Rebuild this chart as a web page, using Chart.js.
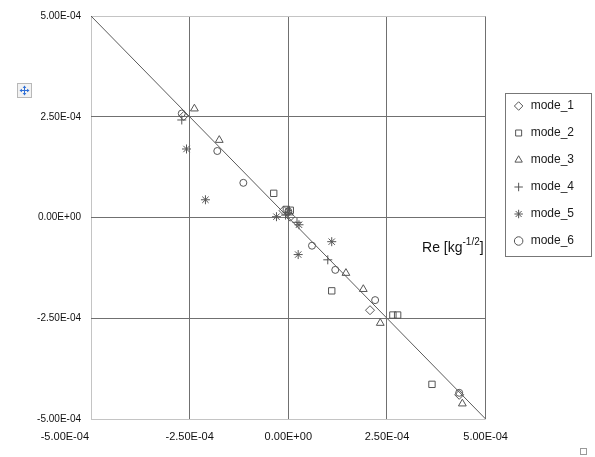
<!DOCTYPE html>
<html>
<head>
<meta charset="utf-8">
<script src="https://cdn.jsdelivr.net/npm/chart.js@4/dist/chart.umd.min.js"></script>
<style>
  html, body { margin: 0; padding: 0; background: #fff; }
</style>
</head>
<body>
<canvas id="modes-chart" width="595" height="457"></canvas>
<script>
// axis ticks
const tickValues = [-5e-4, -2.5e-4, 0, 2.5e-4, 5e-4];
const xTickLabels = ['-5.00E-04', '-2.50E-04', '0.00E+00', '2.50E-04', '5.00E-04'];
const yTickLabels = ['-5.00E-04', '-2.50E-04', '0.00E+00', '2.50E-04', '5.00E-04'];

// reference line y = -x
const fitLine = [[-5e-4, 5e-4], [5e-4, -5e-4]];

// measured points [x, y]
const mode_1 = [[-2.65e-4, 2.52e-4], [-0.12e-4, 0.17e-4], [0.05e-4, 0.02e-4], [2.07e-4, -2.3e-4], [4.33e-4, -4.4e-4]];
const mode_2 = [[-0.37e-4, 0.6e-4], [-0.05e-4, 0.2e-4], [0.05e-4, 0.18e-4], [1.1e-4, -1.82e-4], [2.65e-4, -2.42e-4], [2.77e-4, -2.42e-4], [3.64e-4, -4.14e-4]];
const mode_3 = [[-2.38e-4, 2.7e-4], [-1.75e-4, 1.92e-4], [0.02e-4, 0.12e-4], [1.46e-4, -1.38e-4], [1.9e-4, -1.78e-4], [2.33e-4, -2.62e-4], [4.41e-4, -4.62e-4]];
const mode_4 = [[-2.7e-4, 2.42e-4], [-0.07e-4, 0.06e-4], [0.22e-4, -0.12e-4], [1.0e-4, -1.05e-4]];
const mode_5 = [[-2.58e-4, 1.7e-4], [-2.1e-4, 0.44e-4], [-0.3e-4, 0.02e-4], [0.27e-4, -0.18e-4], [0.25e-4, -0.92e-4], [1.1e-4, -0.6e-4]];
const mode_6 = [[-2.7e-4, 2.58e-4], [-1.8e-4, 1.65e-4], [-1.14e-4, 0.86e-4], [0.0, 0.15e-4], [0.6e-4, -0.7e-4], [1.19e-4, -1.3e-4], [2.2e-4, -2.05e-4], [4.33e-4, -4.35e-4]];

const seriesNames = ['mode_1', 'mode_2', 'mode_3', 'mode_4', 'mode_5', 'mode_6'];
const seriesData = [mode_1, mode_2, mode_3, mode_4, mode_5, mode_6];
const seriesStyles = ['rectRot', 'rect', 'triangle', 'cross', 'star', 'circle'];
const seriesRadius = [4.5, 4.5, 4.5, 4.5, 4.5, 3.5];

const markColor = '#555';
const gridDark = '#707070';
const gridLight = '#c4c4c4';
const FONT = "'Liberation Sans', Arial, sans-serif";

const toXY = arr => arr.map(([x, y]) => ({ x: x, y: y }));

const datasets = seriesNames.map((name, i) => ({
    label: name,
    data: toXY(seriesData[i]),
    pointStyle: seriesStyles[i],
    pointRadius: seriesRadius[i],
    pointHoverRadius: seriesRadius[i],
    pointBorderColor: markColor,
    pointBackgroundColor: 'rgba(0,0,0,0)',
    pointBorderWidth: 1,
    borderColor: markColor,
    backgroundColor: 'rgba(0,0,0,0)',
    borderWidth: 1,
    showLine: false
}));

datasets.push({
    label: 'fit',
    data: toXY(fitLine),
    showLine: true,
    borderColor: '#5a5a5a',
    borderWidth: 1,
    pointRadius: 0,
    fill: false
});

// extra drawing: x tick labels, axis caption, legend frame, little icons
const decorations = {
    id: 'decorations',
    afterDraw(chart) {
        const c = chart.ctx;
        const xs = chart.scales.x;
        const area = chart.chartArea;
        c.save();

        // x tick labels (first one sits left of the axis start, like the original)
        c.fillStyle = '#111';
        c.font = '11px ' + FONT;
        c.textBaseline = 'middle';
        tickValues.forEach((v, i) => {
            const px = xs.getPixelForValue(v);
            if (i === 0) {
                c.textAlign = 'right';
                c.fillText(xTickLabels[i], px - 2, area.bottom + 18);
            } else {
                c.textAlign = 'center';
                c.fillText(xTickLabels[i], px, area.bottom + 18);
            }
        });

        // axis caption Re [kg^-1/2]
        const right = area.right - 2;
        const base = 252;
        c.textBaseline = 'alphabetic';
        c.textAlign = 'left';
        c.fillStyle = '#111';
        c.font = '14px ' + FONT;
        const a = 'Re [kg', b = ']';
        const wa = c.measureText(a).width, wb = c.measureText(b).width;
        c.font = '10px ' + FONT;
        const sup = '-1/2';
        const ws = c.measureText(sup).width;
        let x0 = right - wa - ws - wb;
        c.font = '14px ' + FONT;
        c.fillText(a, x0, base);
        c.font = '10px ' + FONT;
        c.fillText(sup, x0 + wa, base - 7);
        c.font = '14px ' + FONT;
        c.fillText(b, x0 + wa + ws, base);

        // legend frame
        const lg = chart.legend;
        if (lg && lg.legendHitBoxes.length) {
            const hb = lg.legendHitBoxes;
            const first = hb[0], last = hb[hb.length - 1];
            const l = Math.round(first.left - 8) + 0.5;
            const t = Math.round(first.top - 7) + 0.5;
            const b2 = Math.round(last.top + last.height + 9) + 0.5;
            const r = Math.round(lg.right + 7) + 0.5;
            c.strokeStyle = '#777';
            c.lineWidth = 1;
            c.strokeRect(l, t, r - l, b2 - t);
        }

        // move handle icon
        c.fillStyle = '#f2f2f2';
        c.fillRect(17, 83, 15, 15);
        c.strokeStyle = '#b8b8b8';
        c.strokeRect(17.5, 83.5, 14, 14);
        c.strokeStyle = '#2f6fd6';
        c.fillStyle = '#2f6fd6';
        c.beginPath();
        c.moveTo(24.5, 86); c.lineTo(24.5, 95);
        c.moveTo(20, 90.5); c.lineTo(29, 90.5);
        c.stroke();
        [[24.5, 85.5, 0, 1], [24.5, 95.5, 0, -1], [19.5, 90.5, 1, 0], [29.5, 90.5, -1, 0]].forEach(([px, py, dx, dy]) => {
            c.beginPath();
            c.moveTo(px, py);
            c.lineTo(px + dx * 2.5 + dy * 1.8, py + dy * 2.5 + dx * 1.8);
            c.lineTo(px + dx * 2.5 - dy * 1.8, py + dy * 2.5 - dx * 1.8);
            c.closePath();
            c.fill();
        });

        // small handle bottom right
        c.strokeStyle = '#9a9a9a';
        c.strokeRect(580.5, 448.5, 6, 6);

        c.restore();
    }
};

const ctx = document.getElementById('modes-chart').getContext('2d');
const modesChart = new Chart(ctx, {
    type: 'scatter',
    data: { datasets: datasets },
    options: {
        responsive: false,
        animation: false,
        layout: {
            padding: { top: 13, right: 11, bottom: 0, left: 0 }
        },
        plugins: {
            tooltip: { enabled: false },
            legend: {
                position: 'right',
                align: 'start',
                title: {
                    display: true,
                    text: '',
                    padding: { top: 57.6, bottom: 0 }
                },
                labels: {
                    usePointStyle: true,
                    boxHeight: 6,
                    padding: 15,
                    color: '#1a1a1a',
                    font: { family: FONT, size: 12 },
                    filter: item => item.text !== 'fit'
                }
            }
        },
        scales: {
            x: {
                type: 'linear',
                min: -5e-4,
                max: 5e-4,
                afterBuildTicks: s => { s.ticks = tickValues.map(v => ({ value: v })); },
                afterFit: s => { s.height = 38; },
                ticks: { display: false },
                border: { display: false },
                grid: {
                    drawTicks: false,
                    lineWidth: 1,
                    color: c => (c.index === 0 ? gridLight : gridDark)
                }
            },
            y: {
                type: 'linear',
                min: -5e-4,
                max: 5e-4,
                afterBuildTicks: s => { s.ticks = tickValues.map(v => ({ value: v })); },
                afterFit: s => { s.width = 91; },
                ticks: {
                    padding: 10,
                    color: '#111',
                    font: { family: FONT, size: 10 },
                    callback: (value, index) => yTickLabels[index]
                },
                border: { display: false },
                grid: {
                    drawTicks: false,
                    lineWidth: 1,
                    color: c => (c.index === 0 || c.index === tickValues.length - 1 ? gridLight : gridDark)
                }
            },
            gap: {
                type: 'linear',
                position: 'right',
                display: true,
                afterFit: s => { s.width = 12; },
                ticks: { display: false },
                border: { display: false },
                grid: { display: false }
            }
        }
    },
    plugins: [decorations]
});
</script>
</body>
</html>
